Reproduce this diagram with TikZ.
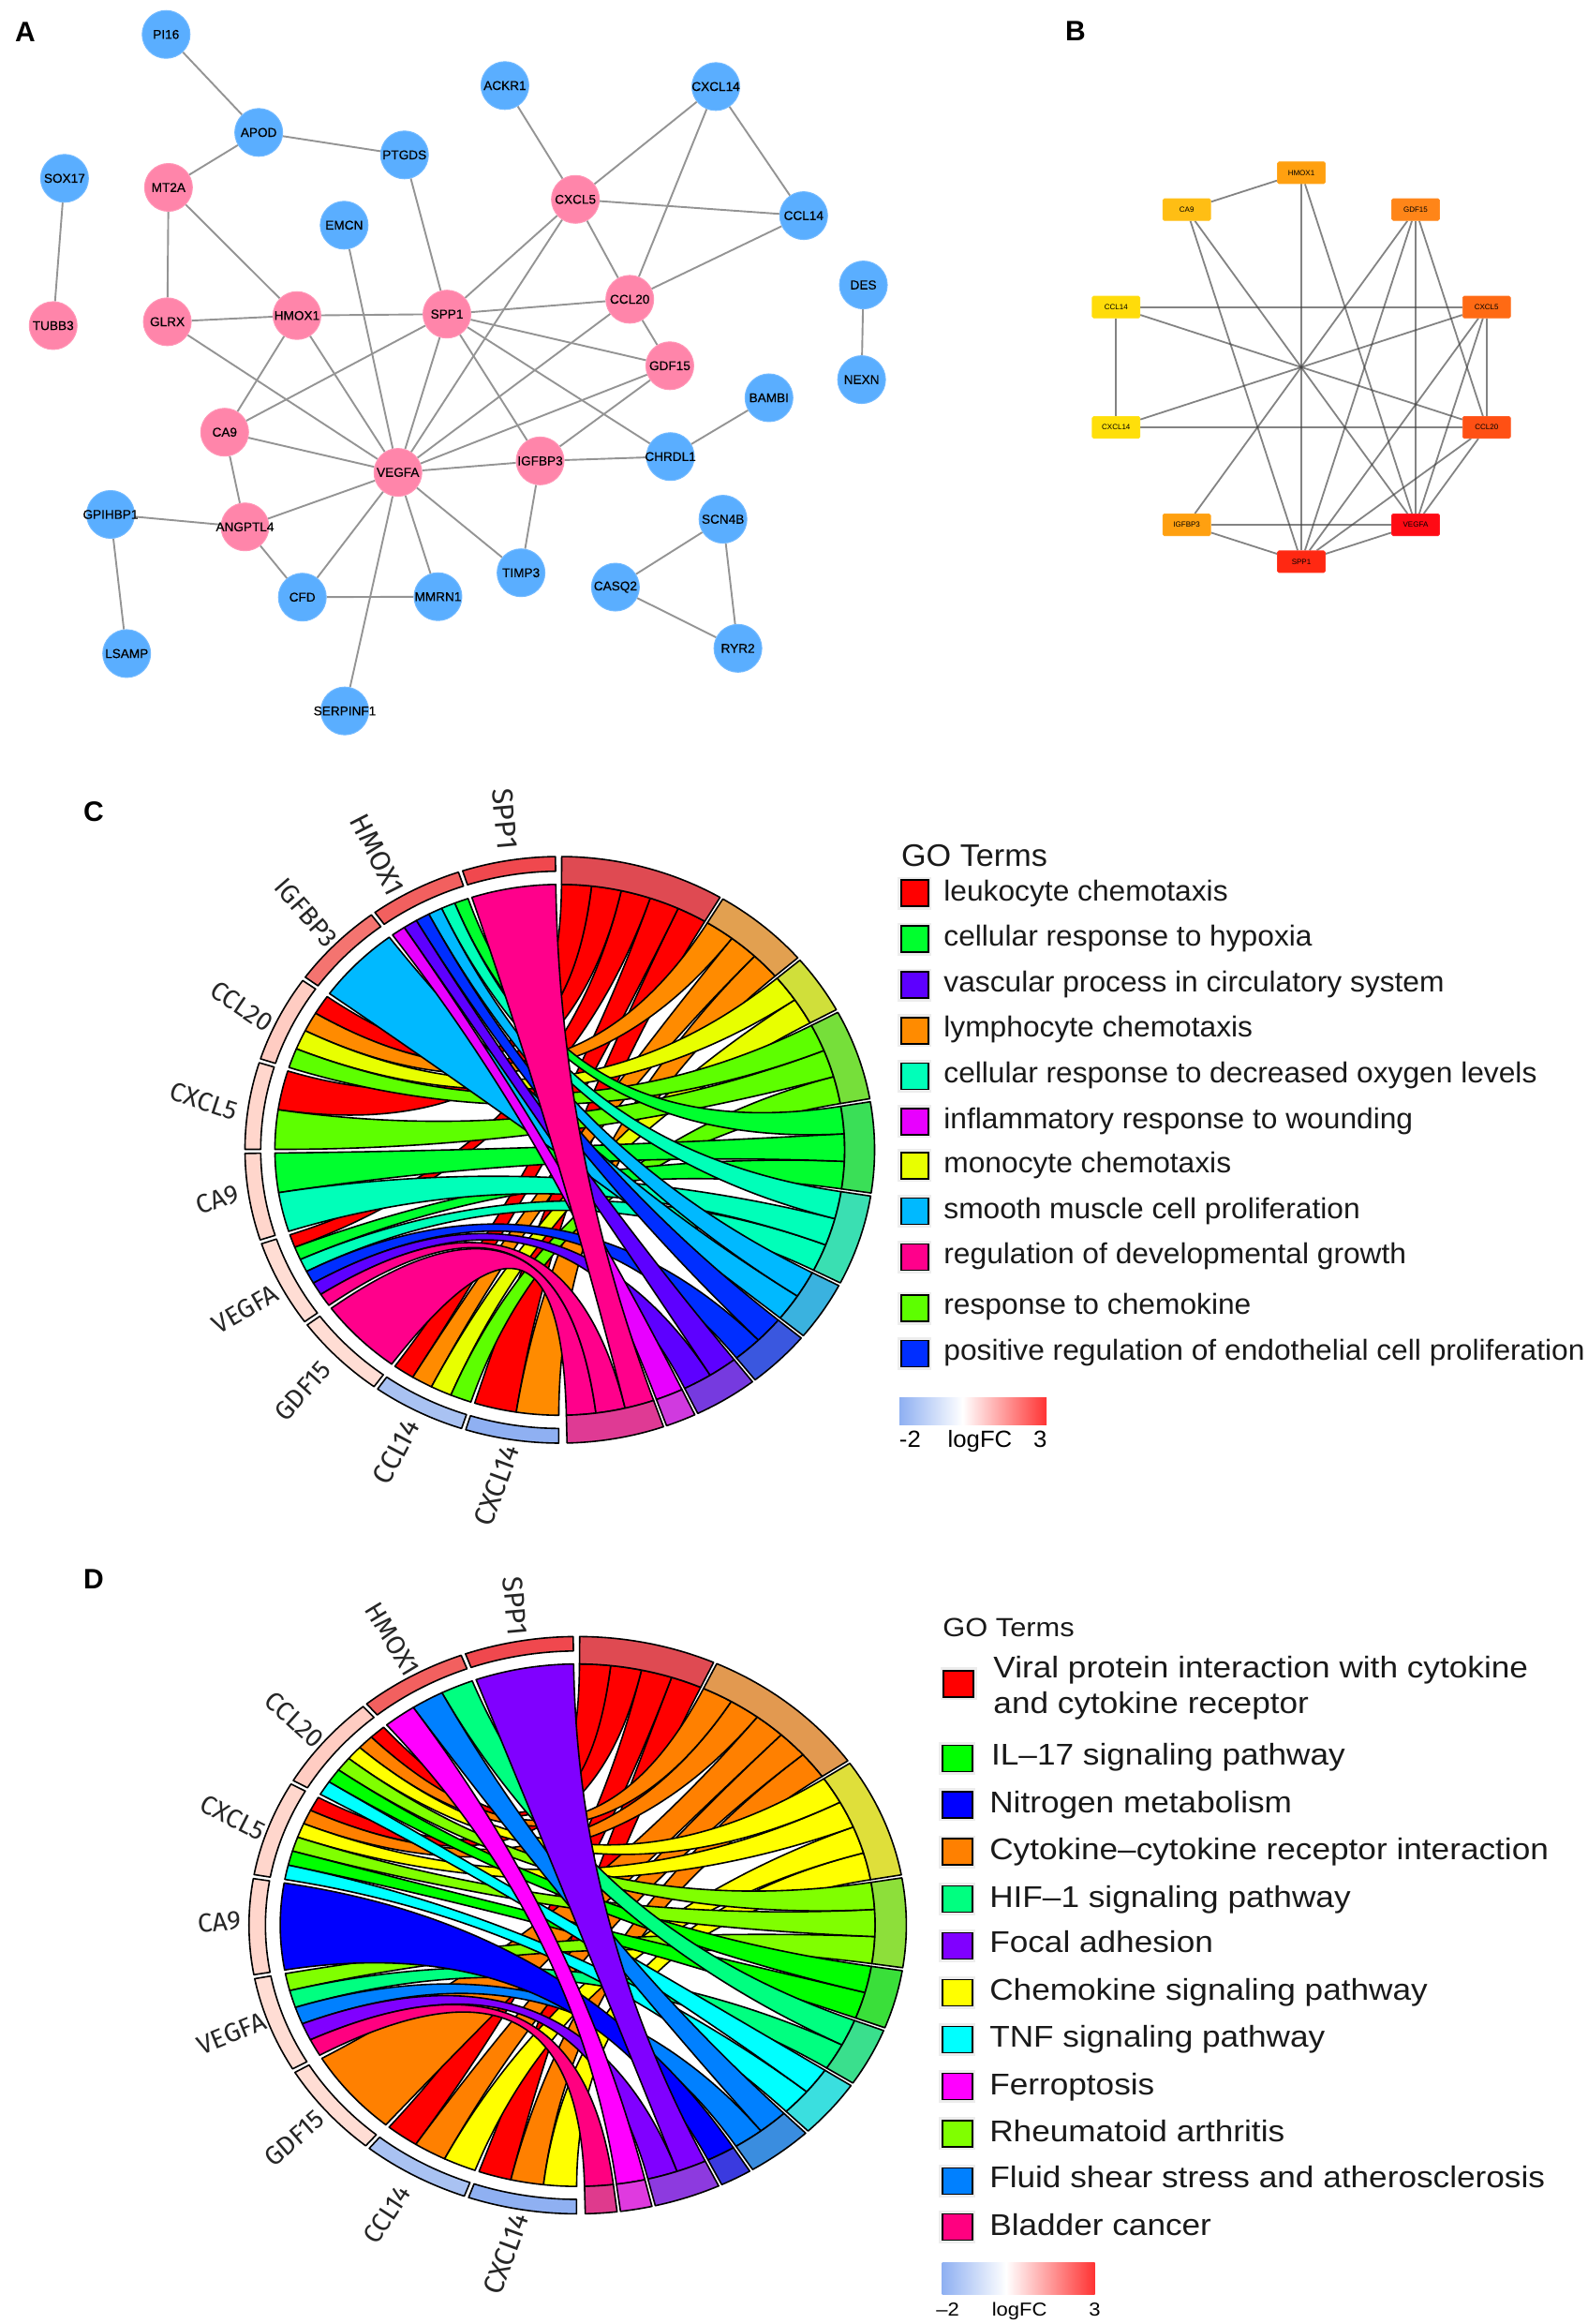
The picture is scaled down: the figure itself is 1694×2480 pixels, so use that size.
\documentclass[tikz,border=0pt]{standalone}
\usepackage{fontspec}
\setmainfont{Liberation Sans}
\newfontfamily\legC[FakeStretch=1.03]{Liberation Sans}
\newfontfamily\legD[FakeStretch=1.1]{Liberation Sans}
\newfontfamily\genef{Fira Sans}
\newfontfamily\netf[FakeBold=.35]{Liberation Sans}
\usepackage{xcolor}
\pgfdeclarelayer{edgelayer}
\pgfsetlayers{edgelayer,main}
% ribbon colours panel C
\definecolor{cRed}{HTML}{FF0000}\definecolor{cOra}{HTML}{FF8B00}\definecolor{cYel}{HTML}{E8FF00}
\definecolor{cLim}{HTML}{5DFF00}\definecolor{cGre}{HTML}{00FF2E}\definecolor{cSpr}{HTML}{00FFB9}
\definecolor{cSky}{HTML}{00B9FF}\definecolor{cBlu}{HTML}{002EFF}\definecolor{cPur}{HTML}{5D00FF}
\definecolor{cMag}{HTML}{E800FF}\definecolor{cPin}{HTML}{FF008B}
% ribbon colours panel D
\definecolor{dRed}{HTML}{FF0000}\definecolor{dOra}{HTML}{FF8000}\definecolor{dYel}{HTML}{FFFF00}
\definecolor{dLim}{HTML}{80FF00}\definecolor{dGre}{HTML}{00FF00}\definecolor{dSpr}{HTML}{00FF80}
\definecolor{dCya}{HTML}{00FFFF}\definecolor{dDod}{HTML}{0080FF}\definecolor{dBlu}{HTML}{0000FF}
\definecolor{dPur}{HTML}{8000FF}\definecolor{dMag}{HTML}{FF00FF}\definecolor{dPin}{HTML}{FF0080}
\definecolor{fcA}{HTML}{F0484E}\definecolor{fcB}{HTML}{F2605F}\definecolor{fcC}{HTML}{F47470}
\definecolor{fcD}{HTML}{FFCCC2}\definecolor{fcE}{HTML}{FFD6CC}\definecolor{fcF}{HTML}{FFDDD4}
\definecolor{fcG}{HTML}{A9C2F2}\definecolor{fcH}{HTML}{8FB0F2}
\definecolor{netBlue}{HTML}{5AAEFF}
\definecolor{netPink}{HTML}{FF85AA}
\definecolor{ringRed}{HTML}{DF4A52}
\tikzset{
 bluenode/.style={circle,fill=netBlue,draw=netBlue!85!white,line width=.5pt,minimum size=25.5pt,inner sep=0pt,font=\netf\fontsize{6.8}{8}\selectfont},
 pinknode/.style={circle,fill=netPink,draw=netPink!85!white,line width=.5pt,minimum size=25.5pt,inner sep=0pt,font=\netf\fontsize{6.8}{8}\selectfont},
 aedge/.style={draw=black!42,line width=.95pt},
 bedge/.style={draw=black!75,line width=.9pt,opacity=.65},
 boxnode/.style={rectangle,rounded corners=.8pt,minimum width=25.5pt,minimum height=11.6pt,inner sep=0pt,font=\fontsize{4}{5}\selectfont},
 ribbon/.style={draw=black,line width=.8pt,line join=round},
 ring/.style={draw=black,line width=.8pt,line join=round},
 panel/.style={font=\fontsize{15}{18}\selectfont\bfseries,inner sep=0pt},
 genelabel/.style={inner sep=0pt,text=black!85},
 legkey/.style={preaction={draw=black!7,line width=3.5pt},draw=black,line width=.8pt,inner sep=0pt},
 legtext/.style={anchor=base west,inner sep=0pt,text=black!90},
}
\newcommand{\chordrib}[7]{%
 \pgfmathsetmacro\chGa{\gbase+\gstep*#1+\gpad+(\gstep-2*\gpad)*#2/#3}%
 \pgfmathsetmacro\chGb{\gbase+\gstep*#1+\gpad+(\gstep-2*\gpad)*(#2+1)/#3}%
 \pgfmathsetmacro\chTs{\tbase+\tstep*#4+\tpad}%
 \pgfmathsetmacro\chTe{\tbase+\tstep*(#4+#6)-\tpad}%
 \pgfmathsetmacro\chTa{\chTs+(\chTe-\chTs)*#5/#6}%
 \pgfmathsetmacro\chTb{\chTs+(\chTe-\chTs)*(#5+1)/#6}%
 \pgfmathsetmacro\chA{90-\chGa}\pgfmathsetmacro\chB{90-\chGb}%
 \pgfmathsetmacro\chC{90-\chTa}\pgfmathsetmacro\chD{90-\chTb}%
 \draw[ribbon,fill=#7] (\chA:.905) arc[start angle=\chA,end angle=\chB,radius=.905]
   .. controls (\chB:.3017) and (\chC:.3017) .. (\chC:.905)
   arc[start angle=\chC,end angle=\chD,radius=.905]
   .. controls (\chD:.3017) and (\chA:.3017) .. cycle;%
}
\newcommand{\genering}[2]{%
 \pgfmathsetmacro\chA{90-(\gbase+\gstep*#1+\gpad)}\pgfmathsetmacro\chB{90-(\gbase+\gstep*(#1+1)-\gpad)}%
 \draw[ring,fill=#2] (\chA:1) arc[start angle=\chA,end angle=\chB,radius=1] -- (\chB:.95)
   arc[start angle=\chB,end angle=\chA,radius=.95] -- cycle;%
}
\newcommand{\termring}[3]{%
 \pgfmathsetmacro\chA{90-(\tbase+\tstep*#1+\tpad)}\pgfmathsetmacro\chB{90-(\tbase+\tstep*(#1+#2)-\tpad)}%
 \draw[ring,fill=#3] (\chA:1) arc[start angle=\chA,end angle=\chB,radius=1] -- (\chB:.905)
   arc[start angle=\chB,end angle=\chA,radius=.905] -- cycle;%
}
\begin{document}
\begin{tikzpicture}[x=.5pt,y=-.5pt]
\useasboundingbox (0,0) rectangle (1694,2480);
% ---------- panel labels
\node[panel] (lblA) at (27,34) {A};
\node[panel] (lblB) at (1148,33) {B};
\node[panel] (lblC) at (100,866) {C};
\node[panel] (lblD) at (100,1685) {D};
% ---------- Panel A
\begin{scope}[x=.31888pt,y=-.2551pt]
\foreach \n/\px/\py/\s in {PI16/278/72/bluenode,APOD/433/277/bluenode,PTGDS/677/324/bluenode,MT2A/282/392/pinknode,SOX17/108/373/bluenode,TUBB3/89/681/pinknode,GLRX/280/673/pinknode,HMOX1/497/660/pinknode,SPP1/748/657/pinknode,EMCN/576/471/bluenode,ACKR1/845/179/bluenode,CXCL14/1198/181/bluenode,CXCL5/963/417/pinknode,CCL14/1345/451/bluenode,CCL20/1054/626/pinknode,DES/1445/596/bluenode,NEXN/1442/794/bluenode,GDF15/1121/765/pinknode,BAMBI/1287/832/bluenode,CHRDL1/1122/955/bluenode,IGFBP3/904/964/pinknode,VEGFA/666/988/pinknode,CA9/376/904/pinknode,ANGPTL4/410/1102/pinknode,GPIHBP1/185/1076/bluenode,CFD/506/1249/bluenode,MMRN1/733/1248/bluenode,TIMP3/872/1198/bluenode,SCN4B/1210/1086/bluenode,CASQ2/1030/1228/bluenode,RYR2/1235/1356/bluenode,LSAMP/212/1367/bluenode,SERPINF1/577/1487/bluenode}
 {\node[\s] (a\n) at (\px,\py) {\makebox[0pt]{\n}};}
\begin{pgfonlayer}{edgelayer}
\foreach \u/\v in {PI16/APOD,APOD/MT2A,APOD/PTGDS,SOX17/TUBB3,MT2A/GLRX,MT2A/HMOX1,GLRX/HMOX1,GLRX/VEGFA,HMOX1/SPP1,HMOX1/CA9,HMOX1/VEGFA,PTGDS/SPP1,EMCN/VEGFA,SPP1/CCL20,SPP1/CXCL5,SPP1/GDF15,SPP1/CHRDL1,SPP1/IGFBP3,SPP1/VEGFA,SPP1/CA9,ACKR1/CXCL5,CXCL14/CXCL5,CXCL14/CCL20,CXCL14/CCL14,CXCL5/CCL14,CXCL5/CCL20,CXCL5/VEGFA,CCL14/CCL20,CCL20/GDF15,CCL20/VEGFA,GDF15/VEGFA,GDF15/IGFBP3,IGFBP3/VEGFA,IGFBP3/CHRDL1,IGFBP3/TIMP3,CHRDL1/BAMBI,CA9/VEGFA,CA9/ANGPTL4,ANGPTL4/VEGFA,ANGPTL4/GPIHBP1,ANGPTL4/CFD,GPIHBP1/LSAMP,VEGFA/CFD,VEGFA/MMRN1,VEGFA/TIMP3,VEGFA/SERPINF1,CFD/MMRN1,SCN4B/CASQ2,SCN4B/RYR2,CASQ2/RYR2,DES/NEXN}
 {\draw[aedge] (a\u) -- (a\v);}
\end{pgfonlayer}
\end{scope}
% ---------- Panel B
\begin{scope}[shift={(1100,130)},x=.18939pt,y=-.16667pt]
\foreach \n/\px/\py/\c in {HMOX1/763/163/FFA010,CA9/440/281/FFBE14,GDF15/1085/281/FF8518,CCL14/241/593/FFDC0A,CXCL5/1285/593/FF6A14,CXCL14/241/978/FFDF0A,CCL20/1285/978/FF5014,IGFBP3/440/1290/FFA010,VEGFA/1085/1290/FF0A14,SPP1/763/1408/FF2812}
 {\definecolor{bfill}{HTML}{\c}\node[boxnode,fill=bfill,draw=bfill!92!white] (b\n) at (\px,\py) {\n};}
\begin{pgfonlayer}{edgelayer}
\foreach \u/\v in {CA9/HMOX1,CA9/SPP1,CA9/VEGFA,HMOX1/SPP1,HMOX1/VEGFA,GDF15/IGFBP3,GDF15/SPP1,GDF15/VEGFA,GDF15/CCL20,CCL14/CXCL5,CCL14/CCL20,CCL14/CXCL14,CXCL14/CXCL5,CXCL14/CCL20,CXCL5/CCL20,CXCL5/VEGFA,CXCL5/SPP1,CCL20/VEGFA,CCL20/SPP1,IGFBP3/VEGFA,IGFBP3/SPP1,VEGFA/SPP1}
 {\draw[bedge] (b\u) -- (b\v);}
\end{pgfonlayer}
\end{scope}
% ---------- Panel C chord
\begin{scope}[shift={(597.5,1227)},x=1cm,y=1cm,xscale=5.905,yscale=5.50]
\def\gbase{179.8}\def\gstep{17.98}\def\gpad{.4}\def\tbase{.05}\def\tstep{6.17}\def\tpad{.3}
\chordrib{0}{1}{2}{0}{4}{5}{cRed}\chordrib{1}{3}{4}{0}{3}{5}{cRed}\chordrib{3}{5}{6}{0}{2}{5}{cRed}\chordrib{5}{1}{2}{0}{1}{5}{cRed}\chordrib{6}{3}{4}{0}{0}{5}{cRed}
\chordrib{0}{0}{2}{5}{2}{3}{cOra}\chordrib{1}{2}{4}{5}{1}{3}{cOra}\chordrib{6}{2}{4}{5}{0}{3}{cOra}
\chordrib{1}{1}{4}{8}{1}{2}{cYel}\chordrib{6}{1}{4}{8}{0}{2}{cYel}
\chordrib{1}{0}{4}{10}{2}{3}{cLim}\chordrib{5}{0}{2}{10}{1}{3}{cLim}\chordrib{6}{0}{4}{10}{0}{3}{cLim}
\chordrib{3}{4}{6}{13}{2}{3}{cGre}\chordrib{4}{1}{2}{13}{1}{3}{cGre}\chordrib{8}{5}{6}{13}{0}{3}{cGre}
\chordrib{3}{3}{6}{16}{2}{3}{cSpr}\chordrib{4}{0}{2}{16}{1}{3}{cSpr}\chordrib{8}{4}{6}{16}{0}{3}{cSpr}
\chordrib{7}{0}{1}{19}{1}{2}{cSky}\chordrib{8}{3}{6}{19}{0}{2}{cSky}
\chordrib{3}{2}{6}{21}{1}{2}{cBlu}\chordrib{8}{2}{6}{21}{0}{2}{cBlu}
\chordrib{3}{1}{6}{23}{1}{2}{cPur}\chordrib{8}{1}{6}{23}{0}{2}{cPur}
\chordrib{8}{0}{6}{25}{0}{1}{cMag}
\chordrib{2}{0}{1}{26}{2}{3}{cPin}\chordrib{3}{0}{6}{26}{1}{3}{cPin}\chordrib{9}{0}{1}{26}{0}{3}{cPin}
\termring{0}{5}{ringRed}\termring{5}{3}{cOra!72!gray!80!white}\termring{8}{2}{cYel!72!gray!90!white}
\termring{10}{3}{cLim!72!gray!90!white}\termring{13}{3}{cGre!72!gray!90!white}\termring{16}{3}{cSpr!72!gray!90!white}
\termring{19}{2}{cSky!72!gray!90!white}\termring{21}{2}{cBlu!72!gray!90!white}\termring{23}{2}{cPur!72!gray!90!white}
\termring{25}{1}{cMag!72!gray!90!white}\termring{26}{3}{cPin!72!gray!90!white}
\genering{0}{fcH}\genering{1}{fcG}\genering{2}{fcF}\genering{3}{fcF}\genering{4}{fcE}\genering{5}{fcE}\genering{6}{fcD}\genering{7}{fcC}\genering{8}{fcB}\genering{9}{fcA}
\end{scope}
\begin{scope}[every node/.append style={genelabel,font=\genef\fontsize{14}{16}\selectfont}]
\node[rotate=-85,font=\genef\fontsize{15.5}{18}\selectfont] (cg9) at (539,874) {SPP1};
\node[rotate=-63,font=\genef\fontsize{15}{18}\selectfont] (cg8) at (403,912) {HMOX1};
\node[rotate=-49] (cg7) at (327,974) {IGFBP3};
\node[rotate=-34] (cg6) at (258,1074) {CCL20};
\node[rotate=-18] (cg5) at (218,1175) {CXCL5};
\node[rotate=20] (cg4) at (232,1280) {CA9};
\node[rotate=30] (cg3) at (262,1397) {VEGFA};
\node[rotate=48] (cg2) at (323,1484) {GDF15};
\node[rotate=62,font=\genef\fontsize{15}{18}\selectfont] (cg1) at (423,1549) {CCL14};
\node[rotate=70,font=\genef\fontsize{15}{18}\selectfont] (cg0) at (530,1585) {CXCL14};
\end{scope}
% ---------- Panel C legend
\begin{scope}[shift={(930,870)},x=.24366pt,y=-.21683pt,every node/.append style={font=\legC\fontsize{15.4}{18}\selectfont}]
\node[legtext,font=\legC\fontsize{16.6}{20}\selectfont] (cT) at (65,125) {GO Terms};
\foreach \t/\k/\b/\c [count=\i] in {leukocyte chemotaxis/192/210/cRed,cellular response to hypoxia/305/322/cGre,vascular process in circulatory system/418/435/cPur,lymphocyte chemotaxis/530/546/cOra,cellular response to decreased oxygen levels/642/659/cSpr,inflammatory response to wounding/754/771/cMag,monocyte chemotaxis/862/880/cYel,smooth muscle cell proliferation/974/992/cSky,regulation of developmental growth/1087/1104/cPin,response to chemokine/1213/1228/cLim,positive regulation of endothelial cell proliferation/1325/1340/cBlu}
 {\node[legkey,fill=\c,minimum width=14.6pt,minimum height=14pt] (ck\i) at (95,\k) {};
  \node[legtext] (ct\i) at (158,\b) {\t};}
\shade[left color=fcH,right color=white] (62,1434) rectangle (200,1500);
\shade[left color=white,right color=red!80!white] (200,1434) rectangle (384,1500);
\node[anchor=base,font=\legC\fontsize{12.5}{15}\selectfont] (cm) at (85,1555) {-2};
\node[anchor=base,font=\legC\fontsize{12.5}{15}\selectfont] (cl) at (238,1555) {logFC};
\node[anchor=base,font=\legC\fontsize{12.5}{15}\selectfont] (cp) at (370,1555) {3};
\end{scope}
% ---------- Panel D chord
\begin{scope}[shift={(616.6,2054.4)},x=1cm,y=1cm,xscale=6.165,yscale=5.413]
\def\gbase{179.8}\def\gstep{19.98}\def\gpad{.4}\def\tbase{.05}\def\tstep{6.17}\def\tpad{.3}
\chordrib{0}{2}{3}{0}{3}{4}{dRed}\chordrib{1}{2}{3}{0}{2}{4}{dRed}\chordrib{5}{5}{6}{0}{1}{4}{dRed}\chordrib{6}{5}{6}{0}{0}{4}{dRed}
\chordrib{0}{1}{3}{4}{4}{5}{dOra}\chordrib{1}{1}{3}{4}{3}{5}{dOra}\chordrib{2}{0}{1}{4}{2}{5}{dOra}\chordrib{5}{4}{6}{4}{1}{5}{dOra}\chordrib{6}{4}{6}{4}{0}{5}{dOra}
\chordrib{0}{0}{3}{9}{3}{4}{dYel}\chordrib{1}{0}{3}{9}{2}{4}{dYel}\chordrib{5}{3}{6}{9}{1}{4}{dYel}\chordrib{6}{3}{6}{9}{0}{4}{dYel}
\chordrib{3}{4}{5}{13}{2}{3}{dLim}\chordrib{5}{2}{6}{13}{1}{3}{dLim}\chordrib{6}{2}{6}{13}{0}{3}{dLim}
\chordrib{5}{1}{6}{16}{1}{2}{dGre}\chordrib{6}{1}{6}{16}{0}{2}{dGre}
\chordrib{3}{3}{5}{18}{1}{2}{dSpr}\chordrib{7}{2}{3}{18}{0}{2}{dSpr}
\chordrib{5}{0}{6}{20}{1}{2}{dCya}\chordrib{6}{0}{6}{20}{0}{2}{dCya}
\chordrib{3}{2}{5}{22}{1}{2}{dDod}\chordrib{7}{1}{3}{22}{0}{2}{dDod}
\chordrib{4}{0}{1}{24}{0}{1}{dBlu}
\chordrib{3}{1}{5}{25}{1}{2}{dPur}\chordrib{8}{0}{1}{25}{0}{2}{dPur}
\chordrib{7}{0}{3}{27}{0}{1}{dMag}
\chordrib{3}{0}{5}{28}{0}{1}{dPin}
\termring{0}{4}{ringRed}\termring{4}{5}{dOra!72!gray!80!white}\termring{9}{4}{dYel!72!gray!90!white}
\termring{13}{3}{dLim!72!gray!90!white}\termring{16}{2}{dGre!72!gray!90!white}\termring{18}{2}{dSpr!72!gray!90!white}
\termring{20}{2}{dCya!72!gray!90!white}\termring{22}{2}{dDod!72!gray!90!white}\termring{24}{1}{dBlu!72!gray!90!white}
\termring{25}{2}{dPur!72!gray!90!white}\termring{27}{1}{dMag!72!gray!90!white}\termring{28}{1}{dPin!72!gray!90!white}
\genering{0}{fcH}\genering{1}{fcG}\genering{2}{fcF}\genering{3}{fcF}\genering{4}{fcE}\genering{5}{fcE}\genering{6}{fcD}\genering{7}{fcB}\genering{8}{fcA}
\end{scope}
\begin{scope}[every node/.append style={genelabel,font=\genef\fontsize{14}{16}\selectfont}]
\node[rotate=-85,font=\genef\fontsize{15}{18}\selectfont] (dg8) at (550,1714) {SPP1};
\node[rotate=-59] (dg7) at (419,1749) {HMOX1};
\node[rotate=-42] (dg6) at (314,1835) {CCL20};
\node[rotate=-27] (dg5) at (249,1940) {CXCL5};
\node[rotate=5] (dg4) at (234,2051) {CA9};
\node[rotate=22] (dg3) at (247,2170) {VEGFA};
\node[rotate=41] (dg2) at (314,2282) {GDF15};
\node[rotate=57] (dg1) at (413,2363) {CCL14};
\node[rotate=70,font=\genef\fontsize{15}{18}\selectfont] (dg0) at (540,2405) {CXCL14};
\end{scope}
% ---------- Panel D legend
\begin{scope}[shift={(970,1690)},x=.23084pt,y=-.25189pt,every node/.append style={font=\legD\fontsize{16}{19}\selectfont}]
\node[legtext,font=\legD\fontsize{14}{17}\selectfont] (dT) at (78,113) {GO Terms};
\node[legtext] (dtA) at (195,200) {Viral protein interaction with cytokine};
\node[legtext] (dtB) at (195,275) {and cytokine receptor};
\node[legkey,fill=dRed,minimum width=16pt,minimum height=14pt] (dkA) at (115,212) {};
\foreach \t/\k/\b/\c/\tx [count=\i] in {IL–17 signaling pathway/370/385/dGre/190,Nitrogen metabolism/468/485/dBlu/186,Cytokine–cytokine receptor interaction/568/585/dOra/186,HIF–1 signaling pathway/668/685/dSpr/186,Focal adhesion/767/782/dPur/186,Chemokine signaling pathway/866/882/dYel/186,TNF signaling pathway/966/982/dCya/186,Ferroptosis/1065/1082/dMag/186,Rheumatoid arthritis/1165/1182/dLim/186,Fluid shear stress and atherosclerosis/1265/1280/dDod/186,Bladder cancer/1363/1380/dPin/186}
 {\node[legkey,fill=\c,minimum width=16pt,minimum height=14pt] (dk\i) at (112,\k) {};
  \node[legtext] (dt\i) at (\tx,\b) {\t};}
\shade[left color=fcH,right color=white] (77,1438) rectangle (225,1505);
\shade[left color=white,right color=red!80!white] (225,1438) rectangle (430,1505);
\node[anchor=base,font=\legD\fontsize{10}{12}\selectfont] (dm) at (90,1552) {–2};
\node[anchor=base,font=\legD\fontsize{10}{12}\selectfont] (dl) at (256,1552) {logFC};
\node[anchor=base,font=\legD\fontsize{10}{12}\selectfont] (dp) at (430,1552) {3};
\end{scope}
\end{tikzpicture}
\end{document}
